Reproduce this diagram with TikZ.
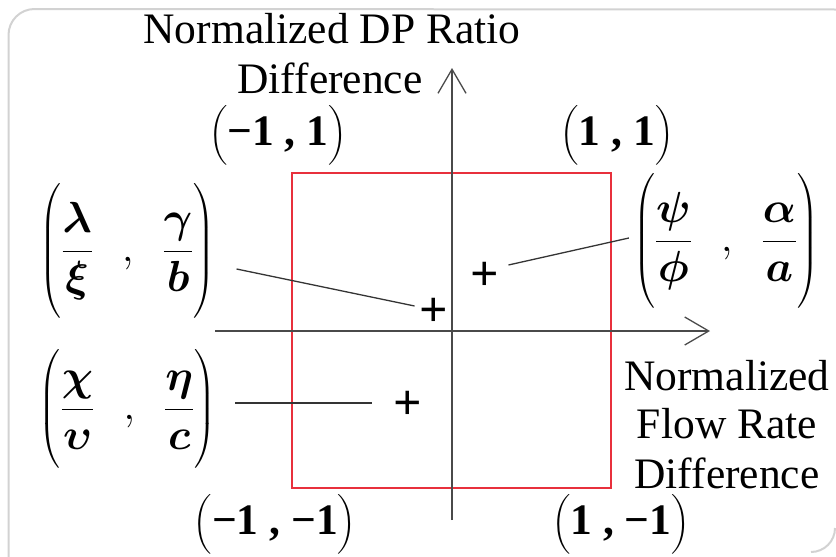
\RequirePackage{fix-cm}
\documentclass[tikz,border=0pt]{standalone}
\usepackage{amsmath}
\usepackage{fontspec}
\setmainfont{Liberation Serif}
\usetikzlibrary{arrows.meta}
\definecolor{axisgray}{HTML}{4A4A4A}
\definecolor{boxred}{HTML}{E8303C}
\definecolor{framegray}{HTML}{D2D2D2}
\newcommand{\bigfont}{\fontsize{43.5}{49}\selectfont}
\newcommand{\plusfont}{\fontsize{50}{50}\selectfont}
\newcommand{\tallrule}[1]{\vcenter{\hbox{\rule{0pt}{#1}}}}
\newcommand{\pairsep}{\mkern12mu\mathord{,}\mkern12mu}
\DeclareMathSizes{43.5}{43.5}{30}{22}
\delimiterfactor=1000
\delimitershortfall=0pt
\begin{document}
\begin{tikzpicture}[x=1pt,y=-1pt,
  lbl/.style={inner sep=0pt, font=\bigfont, anchor=base},
  plus/.style={inner sep=0pt, font=\plusfont\bfseries},
  mat/.style={inner sep=0pt, font=\bigfont},
  axisline/.style={draw=axisgray, line width=1.3pt},
  leader/.style={draw=axisgray!70!black, line width=1.3pt},
  axtip/.style={-{Straight Barb[length=24pt,width=28pt,line width=1.3pt]}},
  frameline/.style={draw=framegray, line width=2pt}
]
\useasboundingbox (0,0) rectangle (836,557);
% light frame
\draw[frameline] (8.5,557) -- (8.5,35) arc[start angle=180, end angle=270, radius=26] -- (836,9.5);
\draw[frameline] (835,528) arc[start angle=0, end angle=90, radius=24];
% red box
\node[draw=boxred, line width=2pt, minimum width=319pt, minimum height=315pt, inner sep=0pt] (box) at (451.5,330.5) {};
% axes
\coordinate (ybot) at (452,520);
\coordinate (ytop) at (452,68);
\coordinate (xleft) at (215,331);
\coordinate (xright) at (710,331);
\draw[axisline, axtip] (ybot) -- (ytop);
\draw[axisline, axtip] (xleft) -- (xright);
% axis labels
\node[lbl] (ylabA) at (332,43) {Normalized DP Ratio};
\node[lbl] (ylabB) at (330,93) {Difference};
\node[lbl] (xlabA) at (727,390) {Normalized};
\node[lbl] (xlabB) at (727,438) {Flow Rate};
\node[lbl] (xlabC) at (727,488) {Difference};
% corner labels
\node[mat] (c1) at (278,135) {$\bigl(\text{\bfseries −1 , 1}\bigr)$};
\node[mat] (c2) at (617,135) {$\bigl(\text{\bfseries 1 , 1}\bigr)$};
\node[mat] (c3) at (275,524) {$\bigl(\text{\bfseries −1 , −1}\bigr)$};
\node[mat] (c4) at (621,524) {$\bigl(\text{\bfseries 1 , −1}\bigr)$};
% plus marks
\node[plus] (pA) at (434,312) {+};
\node[plus] (pB) at (485,276) {+};
\node[plus] (pC) at (408,405) {+};
% pair labels
\node[mat] (mA) at (127.5,251) {$\displaystyle\left(\tallrule{128pt}\frac{\boldsymbol{\lambda}}{\boldsymbol{\xi}}\pairsep\frac{\boldsymbol{\gamma}}{\boldsymbol{b}}\right)$};
\node[mat] (mB) at (726,241) {$\displaystyle\left(\tallrule{128pt}\frac{\boldsymbol{\psi}}{\boldsymbol{\phi}}\pairsep\frac{\boldsymbol{\alpha}}{\boldsymbol{a}}\right)$};
\node[mat] (mC) at (127.5,409) {$\displaystyle\left(\tallrule{110pt}\frac{\boldsymbol{\chi}}{\boldsymbol{\upsilon}}\pairsep\frac{\boldsymbol{\eta}}{\boldsymbol{c}}\right)$};
% leaders
\draw[leader] ([xshift=21pt,yshift=-18pt]mA.east) -- ([xshift=-5pt,yshift=6pt]pA.west);
\draw[leader] ([xshift=9pt,yshift=11pt]pB.east) -- ([xshift=-4pt,yshift=3pt]mB.west);
\draw[leader] ([xshift=19pt,yshift=6pt]mC.east) -- ([xshift=-22pt,yshift=2pt]pC.west);
\end{tikzpicture}
\end{document}
